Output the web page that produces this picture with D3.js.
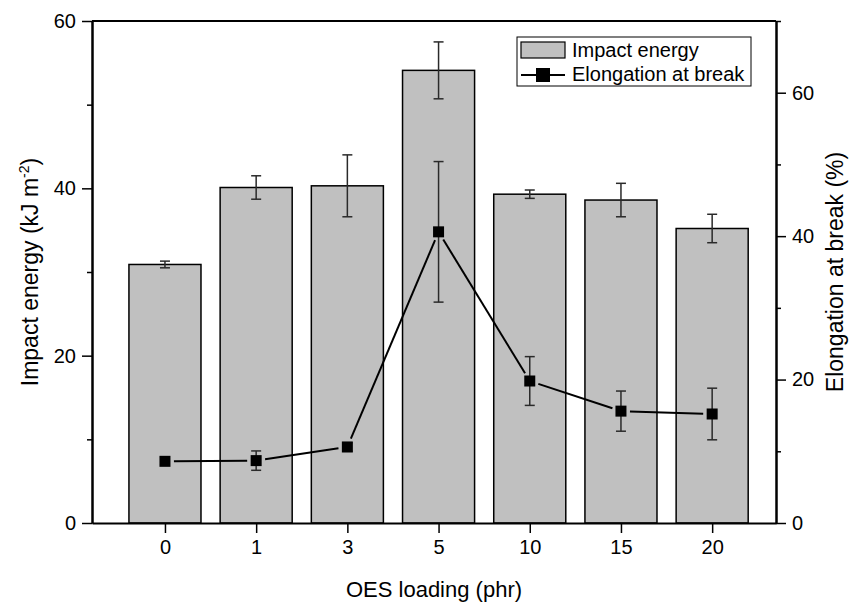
<!DOCTYPE html>
<html>
<head>
<meta charset="utf-8">
<script src="https://cdn.jsdelivr.net/npm/d3@7"></script>
<style>
  body { margin: 0; background: #fff; }
  svg { font-family: "Liberation Sans", Arial, sans-serif; }
  .tick text { font-size: 20px; fill: #000; }
</style>
</head>
<body>
<svg width="852" height="608"></svg>
<script>
// values
const loadings = ['0', '1', '3', '5', '10', '15', '20'];
const impact = [30.9, 40.1, 40.3, 54.1, 39.3, 38.6, 35.2];
const impactErr = [0.4, 1.4, 3.7, 3.4, 0.5, 2.0, 1.7];
const elongation = [8.6, 8.7, 10.6, 40.6, 19.8, 15.6, 15.2];
const elongationErr = [0.5, 1.35, 0.6, 9.8, 3.4, 2.8, 3.6];
const leftTicks = [0, 20, 40, 60];
const leftMinor = [10, 30, 50];
const rightTicks = [0, 20, 40, 60];
const rightMinor = [10, 30, 50, 70];

// chart size
const plotLeft = 92, plotRight = 776, plotTop = 21, plotBottom = 523;

const svg = d3.select('svg');

const x = d3.scaleLinear().domain([-0.8, 6.7]).range([plotLeft, plotRight]);
const yL = d3.scaleLinear().domain([0, 60]).range([plotBottom, plotTop]);
const yR = d3.scaleLinear().domain([0, 70]).range([plotBottom, plotTop]);
const step = x(1) - x(0);
const barW = step * 0.79;
const cap = 5;

const idx = d3.range(loadings.length);

// bars
svg.append('g').selectAll('rect')
    .data(idx)
    .enter()
    .append('rect')
    .attr('x', (i) => x(i) - barW / 2)
    .attr('y', (i) => yL(impact[i]))
    .attr('width', barW)
    .attr('height', (i) => yL(0) - yL(impact[i]))
    .attr('fill', '#c0c0c0')
    .attr('stroke', '#000')
    .attr('stroke-width', 1.5);

// error bars helper
function errorBars(g, scale, vals, errs, color) {
  const e = g.selectAll('g').data(idx).enter().append('g')
      .attr('stroke', color).attr('stroke-width', 1.5);
  e.append('line')
      .attr('x1', (i) => x(i)).attr('x2', (i) => x(i))
      .attr('y1', (i) => scale(vals[i] - errs[i]))
      .attr('y2', (i) => scale(vals[i] + errs[i]));
  e.append('line')
      .attr('x1', (i) => x(i) - cap).attr('x2', (i) => x(i) + cap)
      .attr('y1', (i) => scale(vals[i] + errs[i]))
      .attr('y2', (i) => scale(vals[i] + errs[i]));
  e.append('line')
      .attr('x1', (i) => x(i) - cap).attr('x2', (i) => x(i) + cap)
      .attr('y1', (i) => scale(vals[i] - errs[i]))
      .attr('y2', (i) => scale(vals[i] - errs[i]));
}

errorBars(svg.append('g'), yL, impact, impactErr, '#2a2a2a');

// line with gaps near markers
const gap = 9;
const segs = d3.pairs(idx).map(([a, b]) => {
  const x1 = x(a), y1 = yR(elongation[a]), x2 = x(b), y2 = yR(elongation[b]);
  const len = Math.hypot(x2 - x1, y2 - y1);
  const ux = (x2 - x1) / len, uy = (y2 - y1) / len;
  return [x1 + ux * gap, y1 + uy * gap, x2 - ux * gap, y2 - uy * gap];
});
svg.append('g').selectAll('line')
    .data(segs)
    .enter()
    .append('line')
    .attr('x1', (s) => s[0]).attr('y1', (s) => s[1])
    .attr('x2', (s) => s[2]).attr('y2', (s) => s[3])
    .attr('stroke', '#000')
    .attr('stroke-width', 2);

errorBars(svg.append('g'), yR, elongation, elongationErr, '#2a2a2a');

// markers
svg.append('g').selectAll('rect')
    .data(idx)
    .enter()
    .append('rect')
    .attr('x', (i) => x(i) - 5.5)
    .attr('y', (i) => yR(elongation[i]) - 5.5)
    .attr('width', 11)
    .attr('height', 11)
    .attr('fill', '#000');

// axes
svg.append('g')
    .attr('transform', `translate(${plotLeft},0)`)
    .call(d3.axisLeft(yL).tickValues(leftTicks).tickSize(10).tickPadding(6).tickSizeOuter(0));
svg.append('g')
    .attr('transform', `translate(${plotLeft},0)`)
    .call(d3.axisLeft(yL).tickValues(leftMinor).tickSize(5).tickFormat('').tickSizeOuter(0));

svg.append('g')
    .attr('transform', `translate(${plotRight},0)`)
    .call(d3.axisRight(yR).tickValues(rightTicks).tickSize(10).tickPadding(6).tickSizeOuter(0));
svg.append('g')
    .attr('transform', `translate(${plotRight},0)`)
    .call(d3.axisRight(yR).tickValues(rightMinor).tickSize(5).tickFormat('').tickSizeOuter(0));

svg.append('g')
    .attr('transform', `translate(0,${plotBottom})`)
    .call(d3.axisBottom(x).tickValues(idx).tickFormat((i) => loadings[i])
      .tickSize(10).tickPadding(7).tickSizeOuter(0));

svg.append('line')
    .attr('x1', plotLeft).attr('x2', plotRight).attr('y1', plotTop).attr('y2', plotTop)
    .attr('stroke', '#000').attr('stroke-width', 2);

svg.selectAll('.domain').attr('stroke-width', 2);
svg.selectAll('.tick line').attr('stroke-width', 1.5);

// titles
svg.append('text')
    .attr('x', (plotLeft + plotRight) / 2)
    .attr('y', 597)
    .attr('text-anchor', 'middle')
    .attr('font-size', 22)
    .text('OES loading (phr)');

const lt = svg.append('text')
    .attr('transform', `translate(38,${(plotTop + plotBottom) / 2}) rotate(-90)`)
    .attr('text-anchor', 'middle')
    .attr('font-size', 23);
lt.append('tspan').text('Impact energy (kJ m');
lt.append('tspan').attr('font-size', 14).attr('dy', -9).text('-2');
lt.append('tspan').attr('dy', 9).text(')');

svg.append('text')
    .attr('transform', `translate(843,${(plotTop + plotBottom) / 2}) rotate(-90)`)
    .attr('text-anchor', 'middle')
    .attr('font-size', 23)
    .text('Elongation at break (%)');

// legend
const lg = svg.append('g');
lg.append('rect')
    .attr('x', 517).attr('y', 37).attr('width', 234).attr('height', 49)
    .attr('fill', '#fff').attr('stroke', '#000').attr('stroke-width', 1);
lg.append('rect')
    .attr('x', 521).attr('y', 42).attr('width', 44).attr('height', 16)
    .attr('fill', '#c0c0c0').attr('stroke', '#000').attr('stroke-width', 1.2);
lg.append('line')
    .attr('x1', 521).attr('x2', 565).attr('y1', 75).attr('y2', 75)
    .attr('stroke', '#000').attr('stroke-width', 2);
lg.append('rect')
    .attr('x', 536).attr('y', 68).attr('width', 14).attr('height', 14)
    .attr('fill', '#000');
lg.append('text').attr('x', 572).attr('y', 57).attr('font-size', 20).text('Impact energy');
lg.append('text').attr('x', 572).attr('y', 81).attr('font-size', 20).text('Elongation at break');
</script>
</body>
</html>
